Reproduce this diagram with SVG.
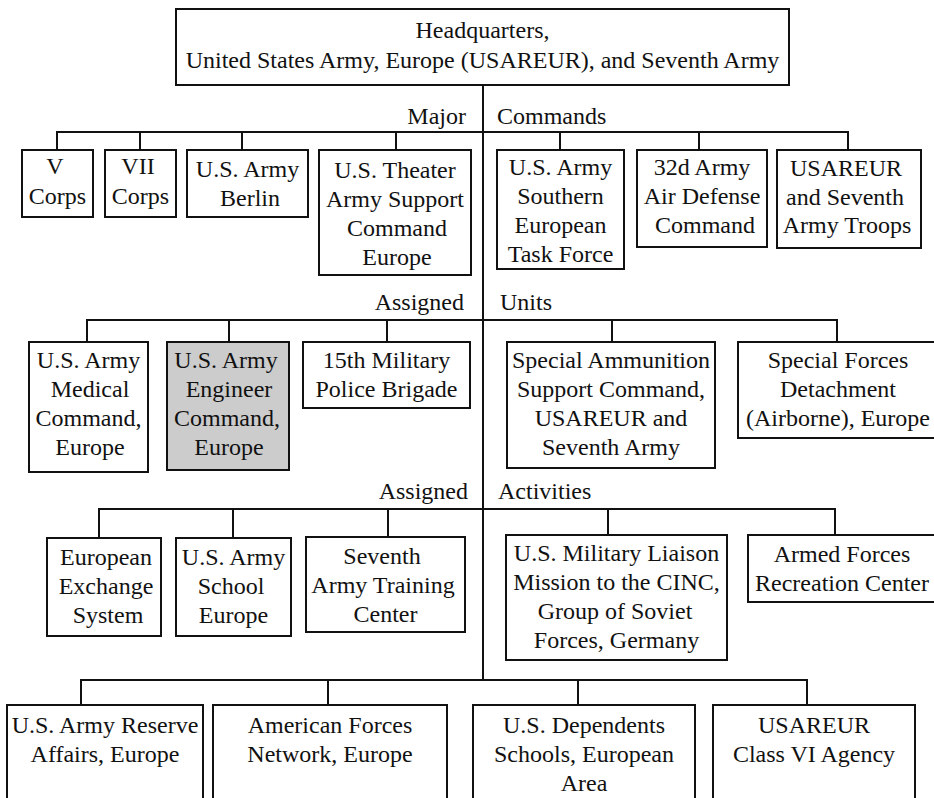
<svg xmlns="http://www.w3.org/2000/svg" width="934" height="798" viewBox="0 0 934 798">
<style>
.b{fill:#fff;stroke:#111;stroke-width:2}
.g{fill:#cccccc;stroke:#111;stroke-width:2}
.c{fill:none;stroke:#111;stroke-width:2}
text{font-family:"Liberation Serif","Times New Roman",serif;font-size:24px;fill:#111}
.m{text-anchor:middle}
.e{text-anchor:end}
</style>
<rect width="934" height="798" fill="#fff"/>
<g id="connectors">
<path class="c" d="M483,85V681"/>
<path class="c" d="M57,150V132H848V150M140,132V150M242,132V150M396,132V150M560,132V150M699,132V150"/>
<path class="c" d="M87,342V320H837V342M229,320V342M387,320V342M612,320V342"/>
<path class="c" d="M99,538V509H835V535M233,509V538M388,509V537M608,509V535"/>
<path class="c" d="M81,705V680H807V705M328,680V705M578,680V705"/>
</g>
<g id="labels">
<text class="e" x="466" y="124">Major</text><text x="497" y="124">Commands</text>
<text class="e" x="464" y="310">Assigned</text><text x="500" y="310">Units</text>
<text class="e" x="468" y="499">Assigned</text><text x="498" y="499">Activities</text>
</g>
<g id="hq"><rect class="b" x="176" y="9" width="613" height="76"/>
<text class="m" x="482.5" y="37.5">Headquarters,</text><text class="m" x="482.5" y="68">United States Army, Europe (USAREUR), and Seventh Army</text></g>
<g id="vcorps"><rect class="b" x="22" y="150" width="71" height="67"/><text class="m" x="55" y="174">V</text><text class="m" x="57.5" y="204">Corps</text></g>
<g id="viicorps"><rect class="b" x="105" y="150" width="71" height="67"/><text class="m" x="138" y="174">VII</text><text class="m" x="140.5" y="204">Corps</text></g>
<g id="berlin"><rect class="b" x="187" y="150" width="121" height="67"/><text class="m" x="247.5" y="177">U.S. Army</text><text class="m" x="250" y="206">Berlin</text></g>
<g id="tasco"><rect class="b" x="319" y="150" width="152" height="125"/><text class="m" x="395" y="178">U.S. Theater</text><text class="m" x="395" y="207">Army Support</text><text class="m" x="397" y="236">Command</text><text class="m" x="397" y="265">Europe</text></g>
<g id="setaf"><rect class="b" x="497" y="150" width="127" height="119"/><text class="m" x="560.5" y="175">U.S. Army</text><text class="m" x="560.5" y="204">Southern</text><text class="m" x="560.5" y="233">European</text><text class="m" x="560.5" y="262">Task Force</text></g>
<g id="adcom"><rect class="b" x="637" y="150" width="130" height="97"/><text class="m" x="702" y="175">32d Army</text><text class="m" x="702" y="204">Air Defense</text><text class="m" x="705" y="233">Command</text></g>
<g id="troops"><rect class="b" x="777" y="150" width="144" height="98"/><text class="m" x="846" y="175.5">USAREUR</text><text class="m" x="845" y="205">and Seventh</text><text class="m" x="847" y="233">Army Troops</text></g>
<g id="medcom"><rect class="b" x="29" y="342" width="119" height="130"/><text class="m" x="88.5" y="368">U.S. Army</text><text class="m" x="90" y="397">Medical</text><text class="m" x="88.5" y="426">Command,</text><text class="m" x="90" y="455">Europe</text></g>
<g id="engcom"><rect class="g" x="167" y="342" width="122" height="128"/><text class="m" x="226" y="368">U.S. Army</text><text class="m" x="229" y="397">Engineer</text><text class="m" x="227" y="426">Command,</text><text class="m" x="229" y="455">Europe</text></g>
<g id="mp"><rect class="b" x="303" y="342" width="167" height="66"/><text class="m" x="386.5" y="368">15th Military</text><text class="m" x="386.5" y="397">Police Brigade</text></g>
<g id="ammo"><rect class="b" x="507" y="342" width="208" height="126"/><text class="m" x="611" y="368">Special Ammunition</text><text class="m" x="611" y="397">Support Command,</text><text class="m" x="611" y="426">USAREUR and</text><text class="m" x="611" y="455">Seventh Army</text></g>
<g id="sf"><rect class="b" x="738" y="342" width="200" height="96"/><text class="m" x="838" y="368">Special Forces</text><text class="m" x="838" y="397">Detachment</text><text class="m" x="838" y="426">(Airborne), Europe</text></g>
<g id="ees"><rect class="b" x="47" y="538" width="114" height="98"/><text class="m" x="106" y="565">European</text><text class="m" x="106" y="594">Exchange</text><text class="m" x="108" y="623">System</text></g>
<g id="school"><rect class="b" x="176" y="538" width="115" height="98"/><text class="m" x="233.5" y="565">U.S. Army</text><text class="m" x="231" y="594">School</text><text class="m" x="233.5" y="623">Europe</text></g>
<g id="training"><rect class="b" x="306" y="537" width="159" height="95"/><text class="m" x="382" y="564">Seventh</text><text class="m" x="383" y="593">Army Training</text><text class="m" x="385.5" y="622">Center</text></g>
<g id="liaison"><rect class="b" x="506" y="535" width="221" height="125"/><text class="m" x="616.5" y="561">U.S. Military Liaison</text><text class="m" x="616.5" y="590">Mission to the CINC,</text><text class="m" x="615" y="619">Group of Soviet</text><text class="m" x="616.5" y="648">Forces, Germany</text></g>
<g id="recreation"><rect class="b" x="748" y="535" width="190" height="67"/><text class="m" x="842" y="562">Armed Forces</text><text class="m" x="842" y="591">Recreation Center</text></g>
<g id="reserve"><rect class="b" x="7" y="705" width="196" height="110"/><text class="m" x="105" y="733">U.S. Army Reserve</text><text class="m" x="105" y="762">Affairs, Europe</text></g>
<g id="afn"><rect class="b" x="213" y="705" width="234" height="110"/><text class="m" x="330" y="733">American Forces</text><text class="m" x="330" y="762">Network, Europe</text></g>
<g id="dependents"><rect class="b" x="473" y="705" width="222" height="110"/><text class="m" x="584" y="733">U.S. Dependents</text><text class="m" x="584" y="762">Schools, European</text><text class="m" x="584" y="791">Area</text></g>
<g id="classvi"><rect class="b" x="713" y="705" width="202" height="110"/><text class="m" x="814" y="733">USAREUR</text><text class="m" x="814" y="762">Class VI Agency</text></g>
</svg>
